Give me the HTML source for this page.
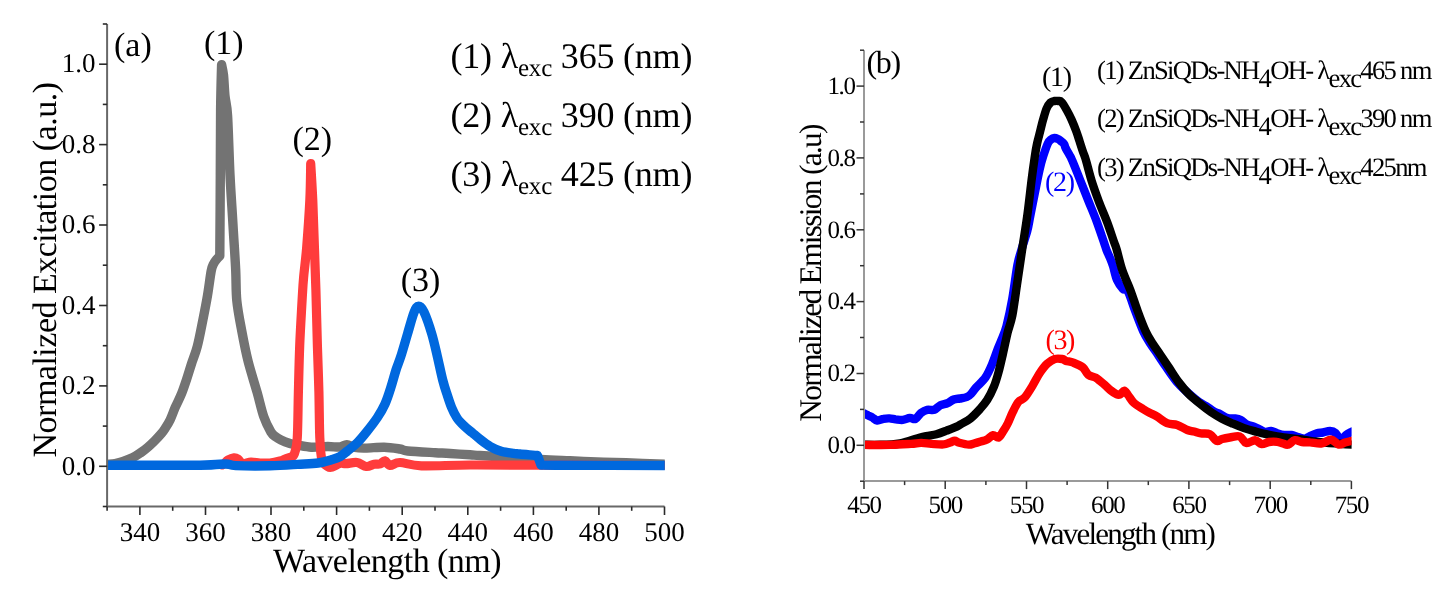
<!DOCTYPE html>
<html><head><meta charset="utf-8"><style>
html,body{margin:0;padding:0;background:#fff;}
body{width:1452px;height:589px;overflow:hidden;}
svg{display:block;font-family:"Liberation Serif",serif;text-rendering:geometricPrecision;filter:blur(0.45px);}
.ta{font-size:27px;}
.tb{font-size:25px;letter-spacing:-1.4px;}
.la{font-size:34px;}
.yt{letter-spacing:-0.5px;}
.xt{letter-spacing:-0.55px;}
.lg{font-size:36px;letter-spacing:-0.2px;}
.lb{font-size:28px;letter-spacing:-1.3px;}
.gb{font-size:26.6px;letter-spacing:-1.7px;}
</style></head><body>
<svg width="1452" height="589" viewBox="0 0 1452 589">
<rect width="1452" height="589" fill="#fff"/>
<defs>
<clipPath id="ca"><rect x="107" y="0" width="557.8" height="589"/></clipPath>
<clipPath id="cb"><rect x="864" y="0" width="487.6" height="589"/></clipPath>
</defs>
<g fill="none" stroke-linejoin="round" stroke-linecap="round" clip-path="url(#ca)">
<path d="M107.0,464.5 C108.3,464.3 112.3,464.0 115.0,463.5 C117.7,463.0 120.0,462.5 123.0,461.5 C126.0,460.5 130.0,459.0 133.0,457.5 C136.0,456.0 138.5,454.2 141.0,452.5 C143.5,450.8 145.6,449.1 147.8,447.2 C150.1,445.3 152.2,443.3 154.5,441.0 C156.8,438.7 159.5,435.9 161.4,433.6 C163.3,431.3 164.5,429.3 166.0,427.0 C167.5,424.7 168.6,423.0 170.2,419.7 C171.8,416.4 173.4,411.5 175.3,407.2 C177.2,402.9 179.8,398.1 181.6,393.6 C183.4,389.1 184.7,385.0 186.4,380.0 C188.1,375.0 189.8,369.1 191.6,363.5 C193.4,357.9 195.5,353.5 197.3,346.4 C199.2,339.3 201.0,329.4 202.7,320.9 C204.4,312.4 206.1,303.8 207.5,295.5 C208.9,287.2 210.2,276.2 211.2,271.0 C212.2,265.8 212.6,265.9 213.5,264.0 C214.4,262.1 215.4,260.8 216.5,259.5 C217.6,258.2 219.2,256.6 219.8,256.0 C219.9,242.5 220.2,199.3 220.3,175.0 C220.4,150.7 220.4,128.4 220.6,110.0 C220.8,91.6 221.4,72.2 221.6,64.6 C221.9,66.3 222.9,69.8 223.5,75.0 C224.1,80.2 224.3,89.2 225.0,96.0 C225.7,102.8 226.8,102.8 227.6,116.0 C228.4,129.2 229.1,156.8 230.0,175.0 C230.9,193.2 232.1,209.2 233.0,225.0 C233.9,240.8 235.1,257.4 235.7,270.0 C236.3,282.6 235.8,290.4 236.8,300.6 C237.8,310.8 239.9,321.0 241.8,331.2 C243.7,341.4 245.6,351.5 248.2,361.7 C250.8,371.9 254.5,383.1 257.1,392.3 C259.7,401.5 261.5,410.2 263.8,416.8 C266.1,423.4 268.9,428.6 270.9,432.0 C272.9,435.4 274.3,435.7 276.0,437.0 C277.7,438.3 278.7,438.9 281.0,440.0 C283.3,441.1 287.2,442.6 290.0,443.5 C292.8,444.4 293.9,444.5 297.5,445.1 C301.1,445.7 306.2,447.0 311.3,447.2 C316.4,447.4 323.1,446.5 327.9,446.5 C332.7,446.5 336.9,447.3 340.0,447.0 C343.1,446.7 344.3,444.6 346.8,444.7 C349.3,444.8 351.9,446.9 355.0,447.5 C358.1,448.1 360.6,448.2 365.5,448.1 C370.4,448.1 378.4,447.1 384.1,447.2 C389.9,447.3 396.1,448.4 400.0,449.0 C403.9,449.6 401.8,450.4 407.7,451.0 C413.6,451.6 428.2,452.3 435.3,452.7 C442.4,453.1 444.2,453.1 450.0,453.5 C455.8,453.9 465.0,454.5 470.0,454.8 C475.0,455.1 473.3,455.1 480.0,455.5 C486.7,455.9 499.8,456.8 510.0,457.5 C520.2,458.2 531.0,458.9 541.0,459.5 C551.0,460.1 560.7,460.4 570.0,460.8 C579.3,461.2 587.7,461.6 597.0,461.9 C606.3,462.2 614.7,462.4 626.0,462.8 C637.3,463.2 658.3,464.1 664.8,464.3" stroke="#737373" stroke-width="9.4"/>
<path d="M222.0,465.0 C222.4,464.7 223.6,464.2 224.6,463.4 C225.6,462.6 226.4,460.9 228.0,460.0 C229.6,459.1 232.3,458.0 234.0,457.8 C235.7,457.6 236.6,458.1 238.0,459.0 C239.4,459.9 240.2,463.0 242.4,463.5 C244.6,464.0 248.1,462.1 251.0,462.0 C253.9,461.9 256.8,462.8 260.0,463.0 C263.2,463.2 266.7,463.3 270.0,463.0 C273.3,462.7 277.4,461.7 280.0,461.0 C282.6,460.3 283.5,459.7 285.3,459.0 C287.1,458.3 289.5,457.9 291.0,457.0 C292.5,456.1 293.4,456.6 294.5,453.4 C295.6,450.2 296.7,447.9 297.3,437.6 C297.9,427.3 298.0,407.0 298.4,391.7 C298.8,376.4 299.1,361.2 299.7,345.9 C300.3,330.6 301.5,311.4 302.1,300.0 C302.8,288.6 302.8,286.4 303.6,277.6 C304.4,268.8 305.7,259.8 306.7,247.0 C307.7,234.2 309.1,214.9 309.8,201.0 C310.5,187.1 310.6,169.8 310.7,163.5 C311.1,169.8 312.2,187.6 312.8,201.0 C313.4,214.4 313.8,229.2 314.3,244.0 C314.8,258.8 315.4,273.0 315.9,290.0 C316.4,307.0 316.9,328.9 317.4,345.9 C317.9,362.8 318.5,376.4 318.9,391.7 C319.3,407.0 319.3,426.2 319.8,437.6 C320.3,449.0 320.6,455.1 322.0,460.0 C323.4,464.9 326.3,465.5 328.0,466.7 C329.7,467.9 330.0,467.8 332.0,467.2 C334.0,466.6 337.7,464.0 340.0,463.4 C342.3,462.8 343.2,463.8 346.0,463.7 C348.8,463.6 353.6,462.0 357.0,462.5 C360.4,463.0 363.6,466.2 366.4,466.5 C369.2,466.8 371.7,464.6 374.0,464.2 C376.3,463.8 378.2,464.6 380.0,464.0 C381.8,463.4 383.3,460.6 385.0,460.8 C386.7,461.1 387.5,465.2 390.0,465.5 C392.5,465.8 394.8,462.4 400.0,462.5 C405.2,462.6 409.8,465.4 421.5,465.8 C433.2,466.2 450.2,465.1 470.0,465.0 C489.8,464.9 507.5,465.1 540.0,465.2 C572.5,465.3 644.0,465.4 664.8,465.5" stroke="#ff3c3c" stroke-width="9.2"/>
<path d="M107.0,465.2 C122.5,465.2 180.2,465.4 200.0,465.2 C219.8,465.0 219.6,463.9 225.5,464.0 C231.4,464.1 228.3,465.3 235.7,465.6 C243.1,465.9 259.7,466.0 270.0,465.8 C280.3,465.6 289.5,464.9 297.5,464.4 C305.5,463.9 312.4,463.8 318.2,463.0 C323.9,462.2 328.4,460.7 332.0,459.6 C335.6,458.5 337.5,458.0 340.0,456.6 C342.5,455.2 344.0,453.8 346.8,451.5 C349.6,449.2 353.6,446.4 357.0,443.0 C360.4,439.6 363.8,435.4 367.2,431.1 C370.6,426.9 374.4,422.0 377.4,417.5 C380.4,413.0 382.7,409.1 385.0,404.0 C387.3,398.9 389.2,392.7 391.0,387.0 C392.8,381.3 394.4,375.1 396.0,370.0 C397.6,364.9 399.0,362.2 400.9,356.2 C402.8,350.2 405.3,341.4 407.5,334.0 C409.7,326.6 412.3,316.6 414.2,312.0 C416.1,307.4 417.0,306.3 418.6,306.3 C420.2,306.3 421.8,307.4 424.0,312.0 C426.2,316.6 429.6,326.6 431.8,334.0 C434.0,341.4 435.5,348.5 437.3,356.2 C439.1,363.9 441.1,373.8 442.7,380.0 C444.3,386.2 445.3,389.1 446.8,393.6 C448.3,398.1 449.8,403.1 451.5,407.2 C453.2,411.3 454.9,414.8 457.0,418.0 C459.1,421.2 461.8,423.7 464.4,426.2 C467.0,428.7 469.9,430.7 472.6,433.0 C475.3,435.3 477.8,437.5 480.7,439.8 C483.6,442.1 486.9,444.7 490.3,446.6 C493.7,448.5 497.3,450.2 501.1,451.3 C504.9,452.4 510.1,452.9 513.3,453.3 C516.4,453.8 516.0,453.6 520.0,454.0 C524.0,454.4 534.6,455.2 537.5,455.5 C538.1,457.1 540.4,463.4 541.0,465.0 C543.5,465.0 535.4,465.1 556.0,465.2 C576.6,465.3 646.7,465.4 664.8,465.5" stroke="#0068de" stroke-width="9.4"/>
</g>
<g fill="none" stroke-linejoin="round" stroke-linecap="round" clip-path="url(#cb)">
<path d="M864.1,413.3 C864.8,413.6 866.8,414.7 868.1,415.4 C869.5,416.1 870.7,416.5 872.2,417.4 C873.7,418.2 875.4,420.2 877.3,420.5 C879.2,420.8 881.4,419.2 883.4,418.9 C885.4,418.5 887.5,418.3 889.5,418.4 C891.5,418.5 893.4,419.1 895.6,419.4 C897.8,419.6 900.4,420.1 902.8,419.9 C905.2,419.6 907.8,418.1 909.9,417.9 C912.0,417.7 913.6,419.8 915.5,418.9 C917.4,418.0 919.1,414.3 921.1,412.8 C923.1,411.3 925.0,410.3 927.2,409.8 C929.4,409.3 932.1,410.6 934.3,409.8 C936.5,409.0 938.2,406.3 940.4,405.2 C942.6,404.1 945.4,404.1 947.6,403.1 C949.8,402.2 951.6,400.3 953.7,399.5 C955.8,398.7 957.8,398.9 960.0,398.5 C962.2,398.1 965.0,397.8 966.8,397.0 C968.6,396.2 969.5,395.6 971.0,394.0 C972.5,392.4 973.7,390.3 976.1,387.5 C978.5,384.7 982.9,381.2 985.5,377.3 C988.1,373.4 990.0,369.0 992.0,364.3 C994.0,359.6 996.0,353.4 997.6,349.3 C999.2,345.2 999.9,343.9 1001.4,340.0 C1002.9,336.1 1004.7,332.9 1006.5,326.0 C1008.3,319.1 1010.5,309.0 1012.3,298.8 C1014.1,288.6 1015.8,273.5 1017.4,265.0 C1019.0,256.5 1020.4,253.7 1022.0,248.0 C1023.6,242.3 1025.9,236.3 1027.3,231.0 C1028.7,225.7 1028.9,223.0 1030.3,215.9 C1031.7,208.8 1034.2,196.3 1035.7,188.7 C1037.2,181.0 1038.3,175.3 1039.5,170.0 C1040.7,164.7 1041.7,161.0 1043.1,156.6 C1044.5,152.2 1046.5,146.3 1047.8,143.5 C1049.1,140.7 1049.9,140.4 1051.0,139.5 C1052.1,138.6 1053.2,138.1 1054.4,138.0 C1055.6,137.9 1056.9,138.5 1058.0,139.0 C1059.1,139.5 1059.9,140.3 1060.9,141.1 C1061.9,141.9 1063.3,142.8 1064.1,144.0 C1064.9,145.2 1064.7,146.1 1065.7,148.2 C1066.8,150.3 1069.3,154.6 1070.4,156.6 C1071.5,158.6 1070.5,156.4 1072.2,160.4 C1073.9,164.4 1077.7,173.9 1080.4,180.7 C1083.1,187.5 1085.8,194.3 1088.5,201.1 C1091.2,207.9 1094.2,214.7 1096.7,221.5 C1099.2,228.3 1102.2,237.2 1103.8,241.9 C1105.4,246.7 1105.5,247.3 1106.5,250.0 C1107.5,252.7 1108.9,255.3 1110.0,258.0 C1111.1,260.7 1111.8,262.3 1113.0,266.0 C1114.2,269.7 1115.3,276.2 1117.0,280.0 C1118.7,283.8 1121.2,287.1 1123.0,289.0 C1124.8,290.9 1126.0,287.8 1128.0,291.5 C1130.0,295.2 1132.7,304.4 1135.2,311.1 C1137.8,317.8 1140.8,326.0 1143.3,331.5 C1145.8,337.0 1148.1,340.2 1150.5,344.0 C1152.9,347.8 1155.1,350.6 1157.7,354.5 C1160.3,358.4 1163.1,362.7 1166.2,367.2 C1169.3,371.7 1172.9,377.3 1176.4,381.4 C1179.9,385.5 1183.2,388.6 1187.0,392.0 C1190.8,395.4 1195.8,399.7 1199.0,402.0 C1202.2,404.3 1203.5,404.4 1206.0,406.0 C1208.5,407.6 1212.0,410.4 1214.3,411.7 C1216.6,413.0 1217.8,412.9 1220.0,414.0 C1222.2,415.1 1225.0,417.2 1227.5,418.0 C1230.0,418.8 1232.8,418.2 1235.0,418.5 C1237.2,418.8 1238.8,419.0 1240.8,420.0 C1242.8,421.0 1244.8,423.4 1247.0,424.5 C1249.2,425.6 1251.8,425.8 1254.0,426.6 C1256.2,427.4 1258.2,428.6 1260.0,429.5 C1261.8,430.4 1263.2,431.8 1265.0,432.0 C1266.8,432.2 1269.0,430.8 1271.0,431.0 C1273.0,431.2 1274.9,432.5 1277.1,433.2 C1279.3,433.9 1281.6,434.7 1284.0,435.0 C1286.4,435.3 1289.2,434.6 1291.5,434.9 C1293.8,435.2 1295.8,436.4 1298.0,437.0 C1300.2,437.6 1302.7,438.9 1304.7,438.7 C1306.7,438.5 1308.0,436.9 1310.0,436.0 C1312.0,435.1 1314.6,433.8 1316.8,433.2 C1319.0,432.6 1320.8,432.9 1323.0,432.5 C1325.2,432.1 1327.9,430.9 1330.0,431.0 C1332.1,431.1 1333.7,431.5 1335.5,433.0 C1337.3,434.5 1339.2,439.7 1341.0,440.0 C1342.8,440.3 1344.2,436.4 1346.0,435.0 C1347.8,433.6 1351.0,432.1 1352.0,431.5" stroke="#0000ff" stroke-width="8.4"/>
<path d="M864.1,444.8 C866.8,444.8 875.4,444.9 880.0,444.8 C884.6,444.8 888.7,444.7 892.0,444.5 C895.3,444.3 897.3,444.0 900.0,443.5 C902.7,443.0 905.3,442.1 908.0,441.3 C910.7,440.5 913.0,439.7 916.0,438.8 C919.0,437.9 922.8,437.0 926.2,436.2 C929.6,435.4 933.0,435.1 936.4,434.2 C939.8,433.3 943.2,431.9 946.6,430.6 C950.0,429.3 954.3,427.7 956.7,426.6 C959.1,425.5 958.9,425.4 961.2,424.0 C963.5,422.6 967.4,420.9 970.5,418.4 C973.6,415.9 977.1,412.2 979.9,409.1 C982.7,406.0 985.0,403.5 987.3,399.8 C989.6,396.1 992.0,391.3 993.9,386.7 C995.8,382.1 997.1,377.5 998.6,372.0 C1000.1,366.5 1001.5,360.0 1003.0,353.5 C1004.5,347.0 1006.0,339.3 1007.5,333.0 C1009.0,326.7 1010.6,324.3 1012.3,315.8 C1013.9,307.3 1015.7,293.2 1017.4,281.9 C1019.1,270.6 1020.7,259.2 1022.4,247.9 C1024.1,236.6 1026.0,225.3 1027.5,214.0 C1029.0,202.7 1030.4,189.6 1031.6,180.0 C1032.8,170.4 1033.9,162.7 1034.8,156.6 C1035.7,150.5 1036.2,147.7 1037.1,143.5 C1038.0,139.3 1039.1,135.6 1040.1,131.6 C1041.1,127.6 1042.0,123.5 1043.1,119.7 C1044.2,115.9 1045.4,111.4 1046.6,108.5 C1047.8,105.6 1049.2,103.8 1050.5,102.5 C1051.8,101.2 1053.1,101.2 1054.4,101.0 C1055.7,100.8 1057.3,100.8 1058.5,101.0 C1059.7,101.2 1060.1,100.5 1061.5,102.0 C1062.9,103.5 1065.1,107.2 1066.8,110.2 C1068.5,113.2 1070.0,116.1 1071.6,119.7 C1073.2,123.3 1075.1,128.0 1076.4,131.6 C1077.7,135.2 1078.4,137.6 1079.5,141.0 C1080.6,144.4 1081.9,148.6 1083.0,151.8 C1084.1,155.0 1084.6,155.6 1086.0,160.4 C1087.4,165.2 1089.5,173.9 1091.6,180.7 C1093.7,187.5 1096.2,194.3 1098.7,201.1 C1101.2,207.9 1104.4,214.7 1106.9,221.5 C1109.5,228.3 1112.3,237.2 1114.0,241.9 C1115.7,246.7 1115.4,245.2 1116.8,250.0 C1118.2,254.8 1120.1,263.6 1122.4,270.4 C1124.7,277.2 1128.0,283.9 1130.6,290.7 C1133.1,297.5 1135.2,304.3 1137.7,311.1 C1140.2,317.9 1143.2,326.0 1145.8,331.5 C1148.3,337.0 1150.6,340.2 1153.0,344.0 C1155.4,347.8 1157.6,350.6 1160.2,354.5 C1162.8,358.4 1165.6,362.6 1168.7,367.2 C1171.8,371.8 1175.5,377.9 1178.9,382.4 C1182.3,386.9 1185.3,390.6 1189.0,394.3 C1192.7,398.0 1197.3,401.5 1201.0,404.5 C1204.7,407.5 1207.5,409.7 1211.0,412.1 C1214.5,414.5 1218.3,416.8 1222.0,418.7 C1225.7,420.6 1229.3,422.1 1233.0,423.7 C1236.7,425.3 1240.4,426.8 1244.1,428.1 C1247.8,429.4 1251.4,430.4 1255.1,431.4 C1258.8,432.4 1262.4,433.4 1266.1,434.2 C1269.8,435.0 1273.4,435.8 1277.1,436.4 C1280.8,437.0 1284.5,437.6 1288.2,438.0 C1291.9,438.4 1295.5,438.6 1299.2,439.1 C1302.9,439.6 1305.9,440.2 1310.2,440.8 C1314.5,441.4 1320.0,442.0 1325.0,442.5 C1330.0,443.0 1335.5,443.4 1340.0,443.8 C1344.5,444.2 1350.0,444.5 1352.0,444.6" stroke="#000" stroke-width="8.4"/>
<path d="M864.1,444.9 C868.5,444.9 882.7,445.1 890.5,444.9 C898.3,444.7 905.8,444.2 910.9,443.9 C916.0,443.6 917.7,442.9 921.1,442.9 C924.5,442.9 927.6,443.6 931.3,443.9 C935.0,444.1 940.4,444.6 943.5,444.4 C946.6,444.2 948.1,443.1 950.0,442.5 C951.9,441.9 953.2,440.8 954.7,440.8 C956.2,440.8 957.0,442.1 959.3,442.7 C961.6,443.3 966.2,444.5 968.7,444.6 C971.2,444.7 972.1,444.0 974.0,443.5 C975.9,443.0 977.7,442.5 979.9,441.8 C982.1,441.1 984.8,440.6 987.0,439.5 C989.2,438.4 991.1,435.5 993.0,435.2 C994.9,434.9 996.9,438.2 998.6,437.5 C1000.3,436.8 1001.8,433.3 1003.4,430.9 C1005.0,428.5 1006.5,426.1 1008.0,423.0 C1009.5,419.9 1011.0,415.7 1012.7,412.2 C1014.4,408.7 1016.3,404.5 1018.3,402.0 C1020.3,399.5 1022.6,399.9 1024.9,397.3 C1027.2,394.7 1029.8,390.2 1032.3,386.1 C1034.8,382.1 1037.3,376.7 1039.8,373.0 C1042.3,369.3 1044.8,366.0 1047.3,363.7 C1049.8,361.4 1052.3,359.8 1054.8,359.0 C1057.3,358.2 1060.3,358.7 1062.2,359.0 C1064.1,359.3 1064.1,360.3 1066.0,360.9 C1067.9,361.5 1070.6,361.6 1073.4,362.7 C1076.2,363.8 1080.3,365.4 1082.8,367.4 C1085.3,369.4 1086.2,373.2 1088.4,374.9 C1090.6,376.6 1093.9,376.7 1095.8,377.7 C1097.7,378.7 1098.5,379.8 1100.0,381.0 C1101.5,382.2 1103.2,383.5 1105.0,385.1 C1106.8,386.7 1108.7,388.8 1110.7,390.4 C1112.7,392.0 1115.5,393.8 1117.0,394.5 C1118.5,395.2 1118.8,395.1 1120.0,394.5 C1121.2,393.9 1122.9,390.7 1124.2,390.8 C1125.5,390.9 1126.4,393.0 1128.0,395.0 C1129.6,397.0 1131.5,400.7 1134.0,403.0 C1136.5,405.3 1140.3,407.3 1143.0,409.0 C1145.7,410.7 1147.7,411.8 1150.0,413.0 C1152.3,414.2 1154.0,414.7 1156.8,416.4 C1159.6,418.1 1163.6,421.8 1167.0,423.2 C1170.4,424.6 1173.8,423.8 1177.2,424.9 C1180.6,426.0 1184.6,428.9 1187.4,430.0 C1190.2,431.1 1191.7,430.9 1194.0,431.5 C1196.3,432.1 1198.3,432.9 1201.0,433.4 C1203.7,433.8 1207.3,433.0 1209.9,434.2 C1212.5,435.4 1214.5,440.0 1216.5,440.8 C1218.5,441.6 1219.8,439.6 1222.0,439.0 C1224.2,438.4 1226.8,437.9 1229.8,437.5 C1232.8,437.1 1237.0,435.5 1239.7,436.4 C1242.5,437.3 1243.7,442.4 1246.3,443.0 C1248.9,443.6 1252.5,440.0 1255.1,440.2 C1257.7,440.4 1259.4,443.8 1261.7,444.1 C1264.0,444.4 1266.4,442.4 1269.0,442.0 C1271.6,441.6 1274.8,441.6 1277.1,441.9 C1279.4,442.1 1281.2,443.1 1283.0,443.5 C1284.8,443.9 1286.2,445.2 1288.2,444.6 C1290.2,444.1 1292.5,440.6 1294.8,440.2 C1297.1,439.8 1299.4,441.6 1302.0,442.0 C1304.6,442.4 1307.0,442.1 1310.2,442.4 C1313.4,442.6 1317.7,443.9 1321.2,443.5 C1324.7,443.1 1328.2,439.5 1331.1,439.7 C1334.0,439.9 1336.5,444.1 1338.8,444.6 C1341.1,445.1 1342.8,443.1 1345.0,442.5 C1347.2,441.9 1350.8,441.1 1352.0,440.8" stroke="#ff0000" stroke-width="8.4"/>
</g>
<line x1="107.1" y1="24.0" x2="107.1" y2="506.5" stroke="#686868" stroke-width="2"/>
<line x1="107.1" y1="506.5" x2="664.5" y2="506.5" stroke="#686868" stroke-width="2"/>
<line x1="102.8" y1="506.5" x2="107.1" y2="506.5" stroke="#2a2a2a" stroke-width="1.6"/>
<line x1="99.1" y1="466.3" x2="107.1" y2="466.3" stroke="#2a2a2a" stroke-width="1.6"/>
<text x="95.5" y="474.5" text-anchor="end" class="ta">0.0</text>
<line x1="102.8" y1="426.1" x2="107.1" y2="426.1" stroke="#2a2a2a" stroke-width="1.6"/>
<line x1="99.1" y1="385.9" x2="107.1" y2="385.9" stroke="#2a2a2a" stroke-width="1.6"/>
<text x="95.5" y="394.1" text-anchor="end" class="ta">0.2</text>
<line x1="102.8" y1="345.7" x2="107.1" y2="345.7" stroke="#2a2a2a" stroke-width="1.6"/>
<line x1="99.1" y1="305.5" x2="107.1" y2="305.5" stroke="#2a2a2a" stroke-width="1.6"/>
<text x="95.5" y="313.7" text-anchor="end" class="ta">0.4</text>
<line x1="102.8" y1="265.2" x2="107.1" y2="265.2" stroke="#2a2a2a" stroke-width="1.6"/>
<line x1="99.1" y1="225.0" x2="107.1" y2="225.0" stroke="#2a2a2a" stroke-width="1.6"/>
<text x="95.5" y="233.2" text-anchor="end" class="ta">0.6</text>
<line x1="102.8" y1="184.8" x2="107.1" y2="184.8" stroke="#2a2a2a" stroke-width="1.6"/>
<line x1="99.1" y1="144.6" x2="107.1" y2="144.6" stroke="#2a2a2a" stroke-width="1.6"/>
<text x="95.5" y="152.8" text-anchor="end" class="ta">0.8</text>
<line x1="102.8" y1="104.4" x2="107.1" y2="104.4" stroke="#2a2a2a" stroke-width="1.6"/>
<line x1="99.1" y1="64.2" x2="107.1" y2="64.2" stroke="#2a2a2a" stroke-width="1.6"/>
<text x="95.5" y="72.4" text-anchor="end" class="ta">1.0</text>
<line x1="102.8" y1="24.0" x2="107.1" y2="24.0" stroke="#2a2a2a" stroke-width="1.6"/>
<line x1="107.1" y1="506.5" x2="107.1" y2="510.8" stroke="#2a2a2a" stroke-width="1.6"/>
<line x1="139.9" y1="506.5" x2="139.9" y2="515.0" stroke="#2a2a2a" stroke-width="1.6"/>
<text x="139.9" y="541.1" text-anchor="middle" class="ta">340</text>
<line x1="172.7" y1="506.5" x2="172.7" y2="510.8" stroke="#2a2a2a" stroke-width="1.6"/>
<line x1="205.5" y1="506.5" x2="205.5" y2="515.0" stroke="#2a2a2a" stroke-width="1.6"/>
<text x="205.5" y="541.1" text-anchor="middle" class="ta">360</text>
<line x1="238.3" y1="506.5" x2="238.3" y2="510.8" stroke="#2a2a2a" stroke-width="1.6"/>
<line x1="271.0" y1="506.5" x2="271.0" y2="515.0" stroke="#2a2a2a" stroke-width="1.6"/>
<text x="271.0" y="541.1" text-anchor="middle" class="ta">380</text>
<line x1="303.8" y1="506.5" x2="303.8" y2="510.8" stroke="#2a2a2a" stroke-width="1.6"/>
<line x1="336.6" y1="506.5" x2="336.6" y2="515.0" stroke="#2a2a2a" stroke-width="1.6"/>
<text x="336.6" y="541.1" text-anchor="middle" class="ta">400</text>
<line x1="369.4" y1="506.5" x2="369.4" y2="510.8" stroke="#2a2a2a" stroke-width="1.6"/>
<line x1="402.2" y1="506.5" x2="402.2" y2="515.0" stroke="#2a2a2a" stroke-width="1.6"/>
<text x="402.2" y="541.1" text-anchor="middle" class="ta">420</text>
<line x1="435.0" y1="506.5" x2="435.0" y2="510.8" stroke="#2a2a2a" stroke-width="1.6"/>
<line x1="467.8" y1="506.5" x2="467.8" y2="515.0" stroke="#2a2a2a" stroke-width="1.6"/>
<text x="467.8" y="541.1" text-anchor="middle" class="ta">440</text>
<line x1="500.6" y1="506.5" x2="500.6" y2="510.8" stroke="#2a2a2a" stroke-width="1.6"/>
<line x1="533.4" y1="506.5" x2="533.4" y2="515.0" stroke="#2a2a2a" stroke-width="1.6"/>
<text x="533.4" y="541.1" text-anchor="middle" class="ta">460</text>
<line x1="566.2" y1="506.5" x2="566.2" y2="510.8" stroke="#2a2a2a" stroke-width="1.6"/>
<line x1="598.9" y1="506.5" x2="598.9" y2="515.0" stroke="#2a2a2a" stroke-width="1.6"/>
<text x="598.9" y="541.1" text-anchor="middle" class="ta">480</text>
<line x1="631.7" y1="506.5" x2="631.7" y2="510.8" stroke="#2a2a2a" stroke-width="1.6"/>
<line x1="664.5" y1="506.5" x2="664.5" y2="515.0" stroke="#2a2a2a" stroke-width="1.6"/>
<text x="664.5" y="541.1" text-anchor="middle" class="ta">500</text>
<line x1="864.0" y1="50.2" x2="864.0" y2="481.1" stroke="#9a9a9a" stroke-width="2"/>
<line x1="864.0" y1="481.1" x2="1351.4" y2="481.1" stroke="#9a9a9a" stroke-width="2"/>
<line x1="860.0" y1="481.2" x2="864.0" y2="481.2" stroke="#333" stroke-width="1.5"/>
<line x1="856.5" y1="445.3" x2="864.0" y2="445.3" stroke="#333" stroke-width="1.5"/>
<text x="854.5" y="453.1" text-anchor="end" class="tb">0.0</text>
<line x1="860.0" y1="409.4" x2="864.0" y2="409.4" stroke="#333" stroke-width="1.5"/>
<line x1="856.5" y1="373.5" x2="864.0" y2="373.5" stroke="#333" stroke-width="1.5"/>
<text x="854.5" y="381.3" text-anchor="end" class="tb">0.2</text>
<line x1="860.0" y1="337.5" x2="864.0" y2="337.5" stroke="#333" stroke-width="1.5"/>
<line x1="856.5" y1="301.6" x2="864.0" y2="301.6" stroke="#333" stroke-width="1.5"/>
<text x="854.5" y="309.4" text-anchor="end" class="tb">0.4</text>
<line x1="860.0" y1="265.7" x2="864.0" y2="265.7" stroke="#333" stroke-width="1.5"/>
<line x1="856.5" y1="229.8" x2="864.0" y2="229.8" stroke="#333" stroke-width="1.5"/>
<text x="854.5" y="237.6" text-anchor="end" class="tb">0.6</text>
<line x1="860.0" y1="193.9" x2="864.0" y2="193.9" stroke="#333" stroke-width="1.5"/>
<line x1="856.5" y1="157.9" x2="864.0" y2="157.9" stroke="#333" stroke-width="1.5"/>
<text x="854.5" y="165.7" text-anchor="end" class="tb">0.8</text>
<line x1="860.0" y1="122.0" x2="864.0" y2="122.0" stroke="#333" stroke-width="1.5"/>
<line x1="856.5" y1="86.1" x2="864.0" y2="86.1" stroke="#333" stroke-width="1.5"/>
<text x="854.5" y="93.9" text-anchor="end" class="tb">1.0</text>
<line x1="860.0" y1="50.2" x2="864.0" y2="50.2" stroke="#333" stroke-width="1.5"/>
<line x1="864.0" y1="481.1" x2="864.0" y2="489.1" stroke="#333" stroke-width="1.5"/>
<text x="864.0" y="513.3" text-anchor="middle" class="tb">450</text>
<line x1="904.6" y1="481.1" x2="904.6" y2="485.1" stroke="#333" stroke-width="1.5"/>
<line x1="945.2" y1="481.1" x2="945.2" y2="489.1" stroke="#333" stroke-width="1.5"/>
<text x="945.2" y="513.3" text-anchor="middle" class="tb">500</text>
<line x1="985.9" y1="481.1" x2="985.9" y2="485.1" stroke="#333" stroke-width="1.5"/>
<line x1="1026.5" y1="481.1" x2="1026.5" y2="489.1" stroke="#333" stroke-width="1.5"/>
<text x="1026.5" y="513.3" text-anchor="middle" class="tb">550</text>
<line x1="1067.1" y1="481.1" x2="1067.1" y2="485.1" stroke="#333" stroke-width="1.5"/>
<line x1="1107.7" y1="481.1" x2="1107.7" y2="489.1" stroke="#333" stroke-width="1.5"/>
<text x="1107.7" y="513.3" text-anchor="middle" class="tb">600</text>
<line x1="1148.3" y1="481.1" x2="1148.3" y2="485.1" stroke="#333" stroke-width="1.5"/>
<line x1="1188.9" y1="481.1" x2="1188.9" y2="489.1" stroke="#333" stroke-width="1.5"/>
<text x="1188.9" y="513.3" text-anchor="middle" class="tb">650</text>
<line x1="1229.6" y1="481.1" x2="1229.6" y2="485.1" stroke="#333" stroke-width="1.5"/>
<line x1="1270.2" y1="481.1" x2="1270.2" y2="489.1" stroke="#333" stroke-width="1.5"/>
<text x="1270.2" y="513.3" text-anchor="middle" class="tb">700</text>
<line x1="1310.8" y1="481.1" x2="1310.8" y2="485.1" stroke="#333" stroke-width="1.5"/>
<line x1="1351.4" y1="481.1" x2="1351.4" y2="489.1" stroke="#333" stroke-width="1.5"/>
<text x="1351.4" y="513.3" text-anchor="middle" class="tb">750</text>
<!-- panel a labels -->
<text class="la" x="114" y="56">(a)</text>
<text class="la" x="204" y="54">(1)</text>
<text class="la" x="292.5" y="149.7">(2)</text>
<text class="la" x="400.7" y="291">(3)</text>
<text class="lg" x="450.5" y="68">(1) λ<tspan font-size="25" dy="8">exc</tspan><tspan dy="-8"> 365 (nm)</tspan></text>
<text class="lg" x="450.5" y="127.2">(2) λ<tspan font-size="25" dy="8">exc</tspan><tspan dy="-8"> 390 (nm)</tspan></text>
<text class="lg" x="450.5" y="185.9">(3) λ<tspan font-size="25" dy="8">exc</tspan><tspan dy="-8"> 425 (nm)</tspan></text>
<text class="la yt" transform="translate(55.6,270) rotate(-90)" text-anchor="middle">Normalized Excitation (a.u.)</text>
<text class="la xt" x="387" y="571.9" text-anchor="middle">Wavelength (nm)</text>
<!-- panel b labels -->
<text class="lb" x="866.5" y="72.9" style="font-size:32px">(b)</text>
<text class="lb" x="1042" y="86.3">(1)</text>
<text class="lb" x="1045" y="191.3" fill="#0000ff">(2)</text>
<text class="lb" x="1045.4" y="348.7" fill="#ff0000">(3)</text>
<text class="gb" x="1097" y="79.2">(1) ZnSiQDs-NH<tspan dy="8">4</tspan><tspan dy="-8">OH- λ</tspan><tspan dy="8">exc</tspan><tspan dy="-8">465 nm</tspan></text>
<text class="gb" x="1097" y="127.2">(2) ZnSiQDs-NH<tspan dy="8">4</tspan><tspan dy="-8">OH- λ</tspan><tspan dy="8">exc</tspan><tspan dy="-8">390 nm</tspan></text>
<text class="gb" x="1097" y="175.6">(3) ZnSiQDs-NH<tspan dy="8">4</tspan><tspan dy="-8">OH- λ</tspan><tspan dy="8">exc</tspan><tspan dy="-8">425nm</tspan></text>
<text class="lb" style="font-size:31.5px;letter-spacing:-1.75px" transform="translate(820.6,273.5) rotate(-90)" text-anchor="middle">Normalized Emission (a.u)</text>
<text class="lb" style="font-size:31px;letter-spacing:-1.8px" x="1120" y="544.1" text-anchor="middle">Wavelength (nm)</text>
</svg>
</body></html>
